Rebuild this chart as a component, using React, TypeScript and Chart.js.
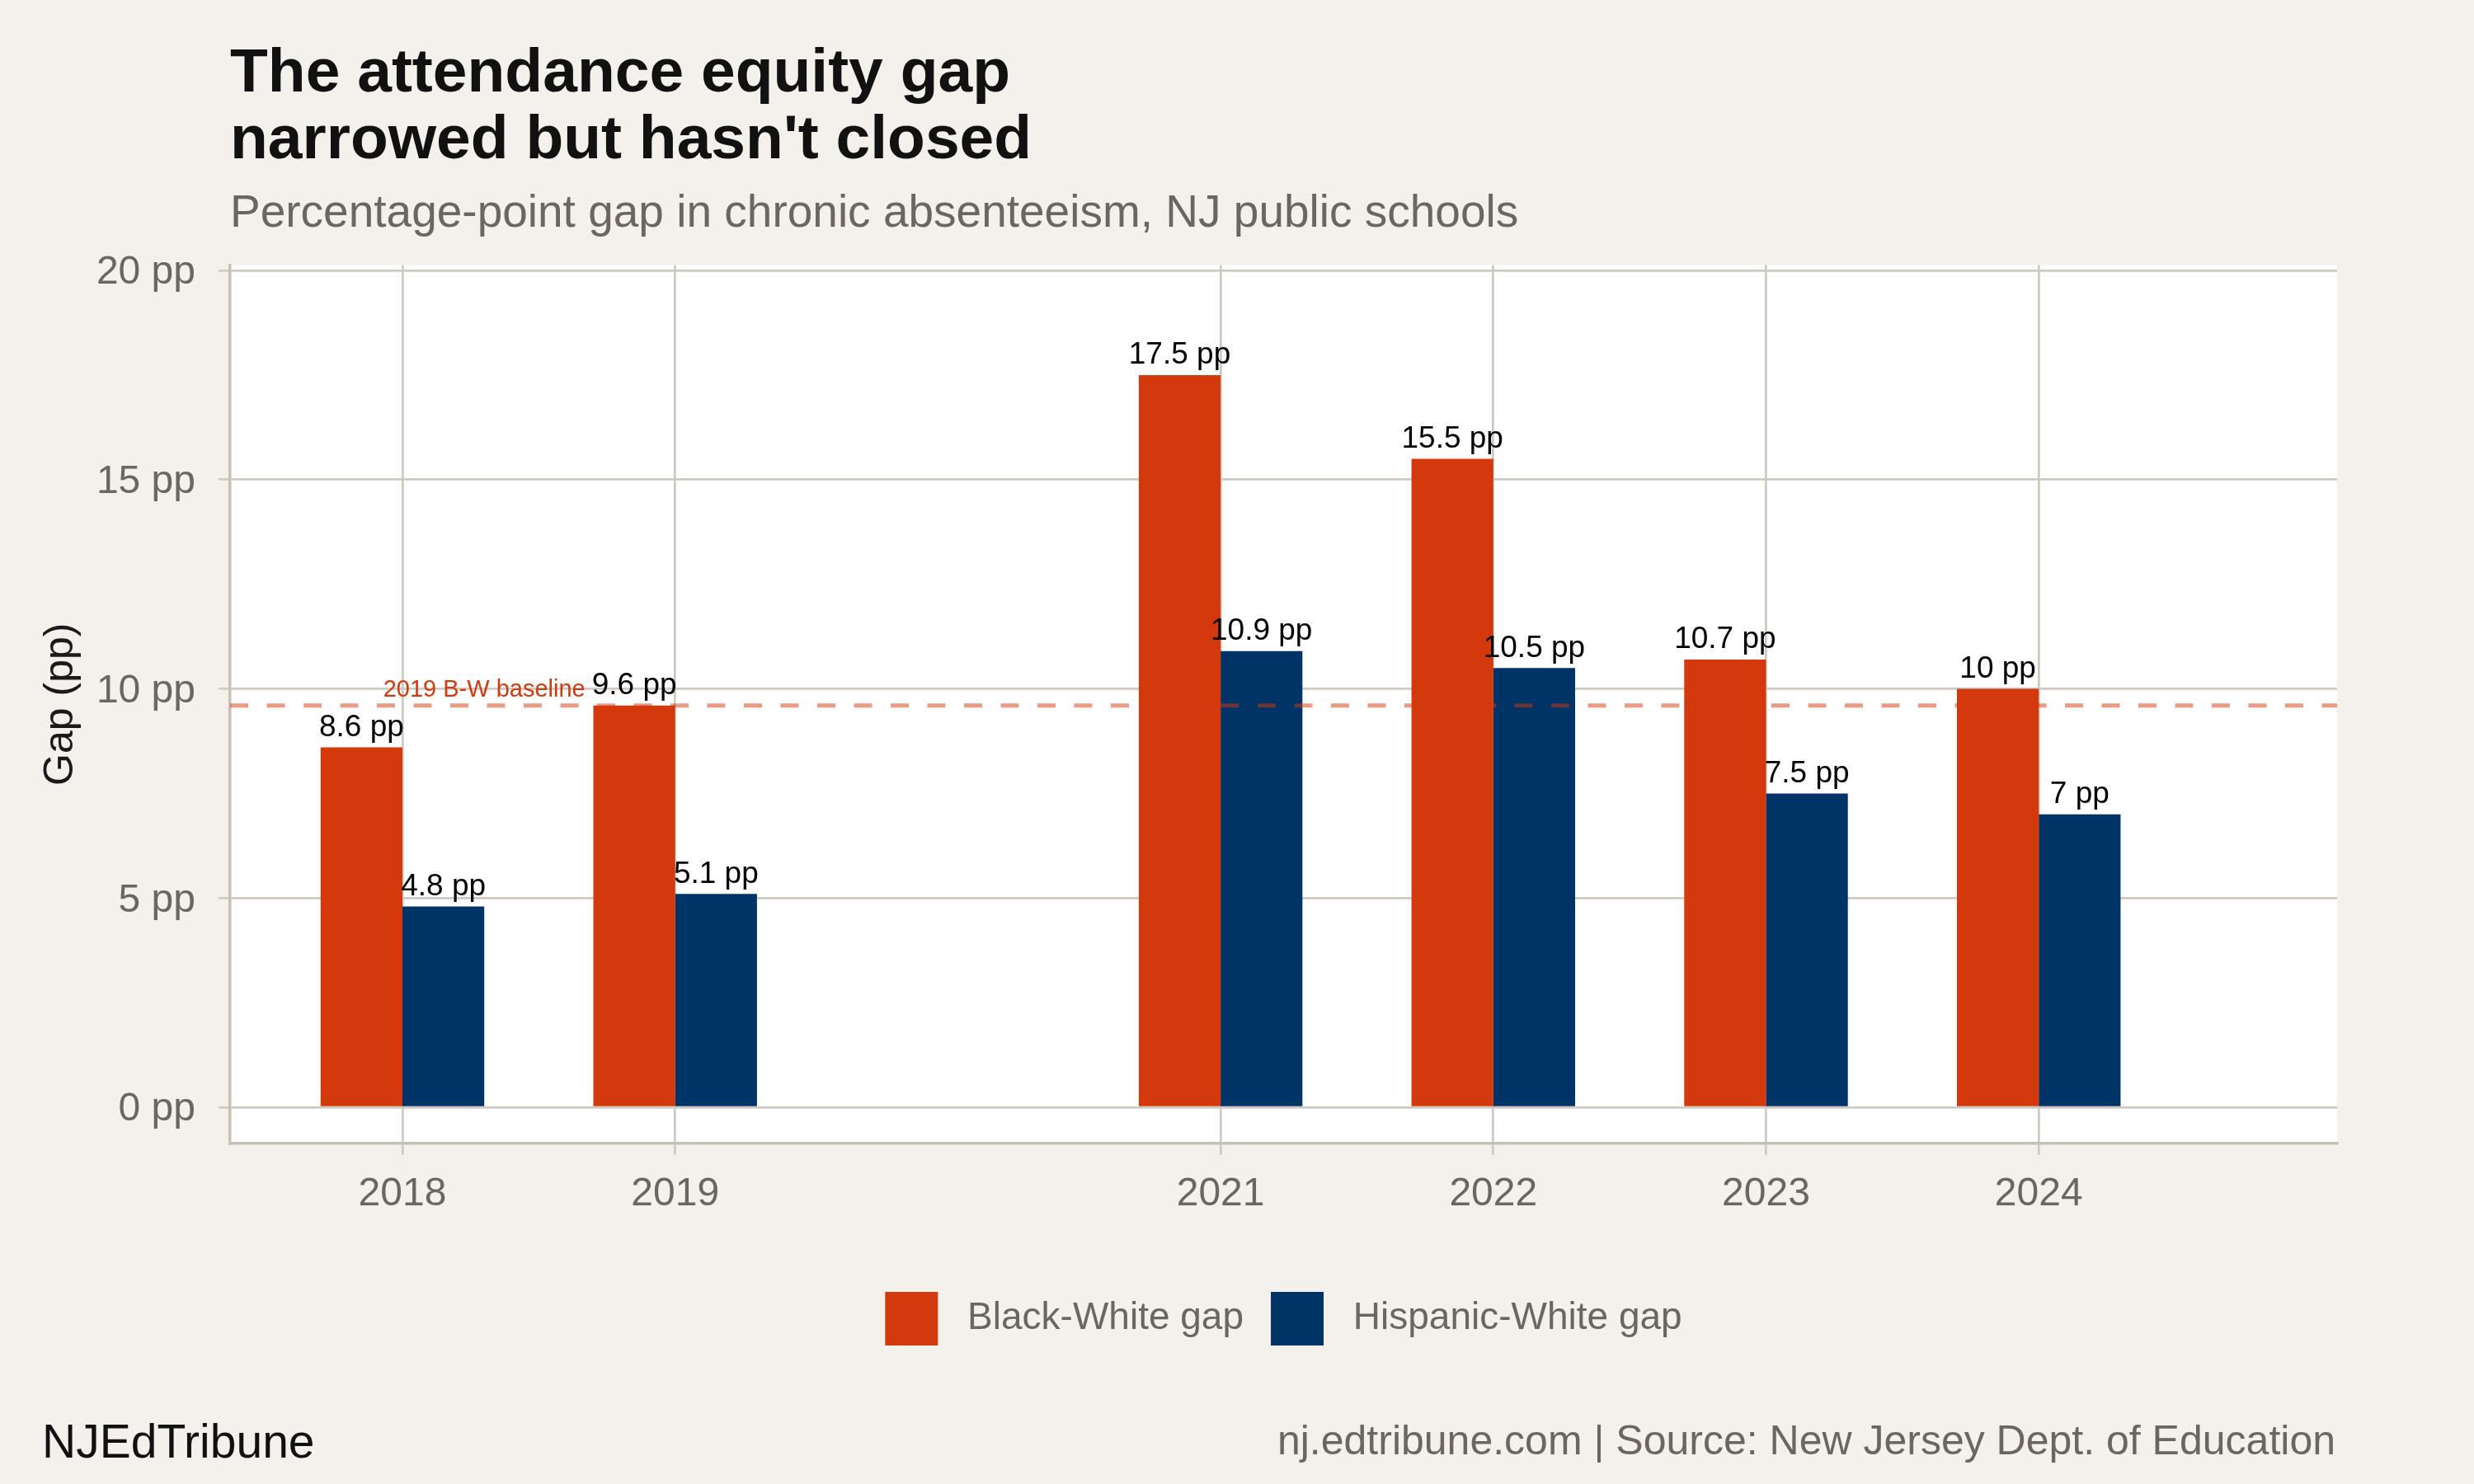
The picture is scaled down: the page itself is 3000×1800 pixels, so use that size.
import React, { useEffect, useRef } from "react";
import { Chart, registerables } from "chart.js";

Chart.register(...registerables);

// ---- Data ----
const YEARS = [2018, 2019, 2021, 2022, 2023, 2024];
const BLACK_WHITE_GAP = [8.6, 9.6, 17.5, 15.5, 10.7, 10];
const HISPANIC_WHITE_GAP = [4.8, 5.1, 10.9, 10.5, 7.5, 7];
const SERIES_NAMES = ["Black-White gap", "Hispanic-White gap"];
const Y_TICKS = [0, 5, 10, 15, 20];
const X_TICKS = [2018, 2019, 2021, 2022, 2023, 2024];
const BASELINE_VALUE = 9.6;
const BASELINE_LABEL = "2019 B-W baseline";
const BASELINE_LABEL_X = 2018.3;
const TITLE = ["The attendance equity gap", "narrowed but hasn't closed"];
const SUBTITLE = "Percentage-point gap in chronic absenteeism, NJ public schools";
const Y_TITLE = "Gap (pp)";
const CAPTION_LEFT = "NJEdTribune";
const CAPTION_RIGHT = "nj.edtribune.com | Source: New Jersey Dept. of Education";

// axis ranges
const X_MIN = 2017.368;
const X_MAX = 2025.094;
const Y_MIN = -0.866;
const Y_MAX = 20.128;

// ---- Styles ----
const FONT = "'Liberation Sans', Arial, Helvetica, sans-serif";
const BG = "#F4F1EC";
const RED = "#D4380D";
const BLUE = "#003366";
const GRAY = "#6B6661";
const GRID = "#CFCAC1";
const AXIS = "#C6C0B6";

const fmtPP = (v: number) => `${v} pp`;

const panelPlugin = {
  id: "panelBg",
  beforeDraw(chart: any) {
    const { ctx, chartArea: a, width, height } = chart;
    ctx.save();
    ctx.fillStyle = BG;
    ctx.fillRect(0, 0, width, height);
    ctx.fillStyle = "#FFFFFF";
    ctx.fillRect(a.left, a.top, a.right - a.left, a.bottom - a.top);
    ctx.restore();
  },
};

const annotationPlugin = {
  id: "annotations",
  afterDatasetsDraw(chart: any) {
    const { ctx, chartArea: a, scales } = chart;
    const yb = scales.y.getPixelForValue(BASELINE_VALUE);
    ctx.save();
    // dashed baseline
    ctx.strokeStyle = "rgba(212,56,13,0.5)";
    ctx.lineWidth = 5;
    ctx.setLineDash([22, 22.5]);
    ctx.beginPath();
    ctx.moveTo(a.left, yb);
    ctx.lineTo(a.right, yb);
    ctx.stroke();
    ctx.setLineDash([]);
    // baseline label
    ctx.fillStyle = RED;
    ctx.font = `29px ${FONT}`;
    ctx.textAlign = "center";
    ctx.textBaseline = "alphabetic";
    ctx.fillText(BASELINE_LABEL, scales.x.getPixelForValue(BASELINE_LABEL_X), yb - 11);
    // value labels
    ctx.fillStyle = "#000000";
    ctx.font = `37px ${FONT}`;
    chart.data.datasets.forEach((ds: any, di: number) => {
      const meta = chart.getDatasetMeta(di);
      meta.data.forEach((bar: any, i: number) => {
        const v = ds.data[i].y;
        ctx.fillText(fmtPP(v), bar.x, bar.y - 13.5);
      });
    });
    ctx.restore();
  },
};

const captionPlugin = {
  id: "caption",
  afterDraw(chart: any) {
    const { ctx } = chart;
    ctx.save();
    ctx.textBaseline = "alphabetic";
    ctx.textAlign = "left";
    ctx.fillStyle = "#111111";
    ctx.font = `57px ${FONT}`;
    ctx.fillText(CAPTION_LEFT, 51, 1768);
    ctx.textAlign = "right";
    ctx.fillStyle = GRAY;
    ctx.font = `50px ${FONT}`;
    ctx.fillText(CAPTION_RIGHT, 2832, 1764);
    ctx.restore();
  },
};

export default function App() {
  const ref = useRef<HTMLCanvasElement | null>(null);

  useEffect(() => {
    document.body.style.margin = "0";
    Chart.defaults.font.family = FONT;
    const canvas = ref.current;
    if (!canvas) return;
    const chart = new Chart(canvas, {
      type: "bar",
      data: {
        datasets: [
          {
            label: SERIES_NAMES[0],
            data: YEARS.map((x, i) => ({ x, y: BLACK_WHITE_GAP[i] })),
            backgroundColor: RED,
            borderWidth: 0,
            categoryPercentage: 0.6,
            barPercentage: 1,
          },
          {
            label: SERIES_NAMES[1],
            data: YEARS.map((x, i) => ({ x, y: HISPANIC_WHITE_GAP[i] })),
            backgroundColor: BLUE,
            borderWidth: 0,
            categoryPercentage: 0.6,
            barPercentage: 1,
          },
        ],
      } as any,
      options: {
        responsive: false,
        animation: false,
        devicePixelRatio: 1,
        events: [],
        layout: { padding: { top: 0, left: 0, right: 166, bottom: 158 } },
        scales: {
          x: {
            type: "linear",
            min: X_MIN,
            max: X_MAX,
            offset: false,
            afterBuildTicks: (s: any) => {
              s.ticks = X_TICKS.map((v) => ({ value: v }));
            },
            afterFit: (s: any) => {
              s.height = 147;
            },
            grid: {
              color: GRID,
              lineWidth: 2.7,
              drawTicks: true,
              tickLength: 14,
              tickColor: GRID,
              offset: false,
            },
            border: { display: true, color: AXIS, width: 3.5 },
            ticks: {
              color: GRAY,
              font: { size: 48 },
              padding: 19,
              autoSkip: false,
              maxRotation: 0,
              callback: (v: any) => String(v),
            },
          },
          y: {
            type: "linear",
            min: Y_MIN,
            max: Y_MAX,
            afterBuildTicks: (s: any) => {
              s.ticks = Y_TICKS.map((v) => ({ value: v }));
            },
            afterFit: (s: any) => {
              s.width = 279;
            },
            grid: {
              color: GRID,
              lineWidth: 2.7,
              drawTicks: true,
              tickLength: 14,
              tickColor: GRID,
            },
            border: { display: true, color: AXIS, width: 3.5 },
            ticks: {
              color: GRAY,
              font: { size: 48 },
              padding: 28,
              labelOffset: 3,
              callback: (v: any) => fmtPP(v),
            },
            title: {
              display: true,
              text: Y_TITLE,
              color: "#1A1A1A",
              font: { size: 50 },
              padding: { top: 44, bottom: 0 },
            },
          },
        },
        plugins: {
          tooltip: { enabled: false },
          title: {
            display: true,
            text: TITLE,
            align: "start",
            fullSize: false,
            color: "#111111",
            font: { size: 75, weight: "bold", lineHeight: 1.09 },
            padding: { top: 49, bottom: 0 },
          },
          subtitle: {
            display: true,
            text: SUBTITLE,
            align: "start",
            fullSize: false,
            color: GRAY,
            font: { size: 55, lineHeight: 1.2 },
            padding: { top: 14, bottom: 29 },
          },
          legend: {
            display: true,
            position: "bottom",
            align: "center",
            fullSize: false,
            labels: {
              boxWidth: 64,
              boxHeight: 65,
              padding: 33,
              color: GRAY,
              font: { size: 46 },
              generateLabels: (c: any) =>
                (Chart.defaults.plugins.legend.labels.generateLabels as any)(c).map((l: any) => ({
                  ...l,
                  text: " " + l.text,
                  lineWidth: 0,
                })),
            },
          },
        },
      } as any,
      plugins: [panelPlugin, annotationPlugin, captionPlugin],
    });
    return () => chart.destroy();
  }, []);

  return (
    <div
      style={{
        position: "absolute",
        left: 0,
        top: 0,
        width: 3000,
        height: 1800,
        background: BG,
      }}
    >
      <canvas ref={ref} width={3000} height={1800} style={{ width: 3000, height: 1800, display: "block" }} />
    </div>
  );
}
